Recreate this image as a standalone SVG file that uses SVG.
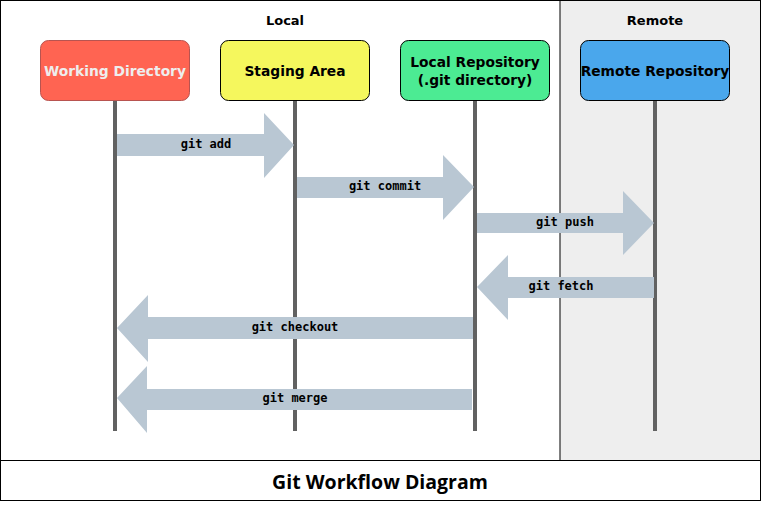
<svg xmlns="http://www.w3.org/2000/svg" width="762" height="511" viewBox="0 0 762 511">
<style>
.nt{font-family:"DejaVu Sans","Liberation Sans",sans-serif;font-weight:bold;font-size:13.8px;text-anchor:middle;dominant-baseline:central}
.hd{font-family:"DejaVu Sans","Liberation Sans",sans-serif;font-weight:bold;font-size:13px;text-anchor:middle;dominant-baseline:central;fill:#000}
.life{stroke:#616161;stroke-width:4}
.arr{fill:#B9C7D3}
.al{font-family:"DejaVu Sans Mono","Liberation Mono",monospace;font-weight:bold;font-size:12px;text-anchor:middle;dominant-baseline:central;fill:#000}
</style>
<rect x="0.5" y="0.5" width="760" height="500" fill="#fff" stroke="#000"/>
<rect x="560" y="0.5" width="200.5" height="460" fill="#EEEEEE" stroke="#000"/>
<line x1="0.5" y1="460.5" x2="760.5" y2="460.5" stroke="#000"/>
<text class="hd" x="285" y="20">Local</text>
<text class="hd" x="655" y="20">Remote</text>
<g id="lifelines">
<line class="life" x1="115" y1="100" x2="115" y2="431"/>
<line class="life" x1="295" y1="100" x2="295" y2="431"/>
<line class="life" x1="475" y1="100" x2="475" y2="431"/>
<line class="life" x1="655" y1="100" x2="655" y2="431"/>
</g>
<g id="node-working">
<rect x="40.5" y="40.5" width="149" height="60" rx="8" fill="#FF6452" stroke="#B85450"/>
<text class="nt" x="115" y="71" fill="#EEEEEE">Working Directory</text>
</g>
<g id="node-staging">
<rect x="220.5" y="40.5" width="149" height="60" rx="8" fill="#F5F75D" stroke="#000"/>
<text class="nt" x="295" y="71" fill="#000">Staging Area</text>
</g>
<g id="node-local">
<rect x="400.5" y="40.5" width="149" height="60" rx="8" fill="#4CEB93" stroke="#000"/>
<text class="nt" x="475" y="62" fill="#000">Local Repository</text>
<text class="nt" x="475" y="80" fill="#000">(.git directory)</text>
</g>
<g id="node-remote">
<rect x="580.5" y="40.5" width="149" height="60" rx="8" fill="#4AA7EC" stroke="#000"/>
<text class="nt" x="655" y="71" fill="#000">Remote Repository</text>
</g>
<g id="connectors">
<g id="git-add"><polygon class="arr" points="117,134 264,134 264,113 294,145 264,178 264,156 117,156"/><text class="al" x="206" y="144">git add</text></g>
<g id="git-commit"><polygon class="arr" points="297,177 443,177 443,155 474,187 443,220 443,198 297,198"/><text class="al" x="385" y="186">git commit</text></g>
<g id="git-push"><polygon class="arr" points="477,213 623,213 623,191 654,223 623,255 623,233 477,233"/><text class="al" x="565" y="222">git push</text></g>
<g id="git-fetch"><polygon class="arr" points="654,277 508,277 508,255 477,287 508,320 508,298 654,298"/><text class="al" x="561" y="286">git fetch</text></g>
<g id="git-checkout"><polygon class="arr" points="473,317 148,317 148,295 117,328 148,362 148,339 473,339"/><text class="al" x="295" y="327">git checkout</text></g>
<g id="git-merge"><polygon class="arr" points="472,389 147,389 147,366 117,398 147,433 147,410 472,410"/><text class="al" x="295" y="398">git merge</text></g>
</g>
<text x="380" y="481" font-family="'Open Sans','DejaVu Sans',sans-serif" font-weight="bold" font-size="19.5" text-anchor="middle" dominant-baseline="central">Git Workflow Diagram</text>
</svg>
